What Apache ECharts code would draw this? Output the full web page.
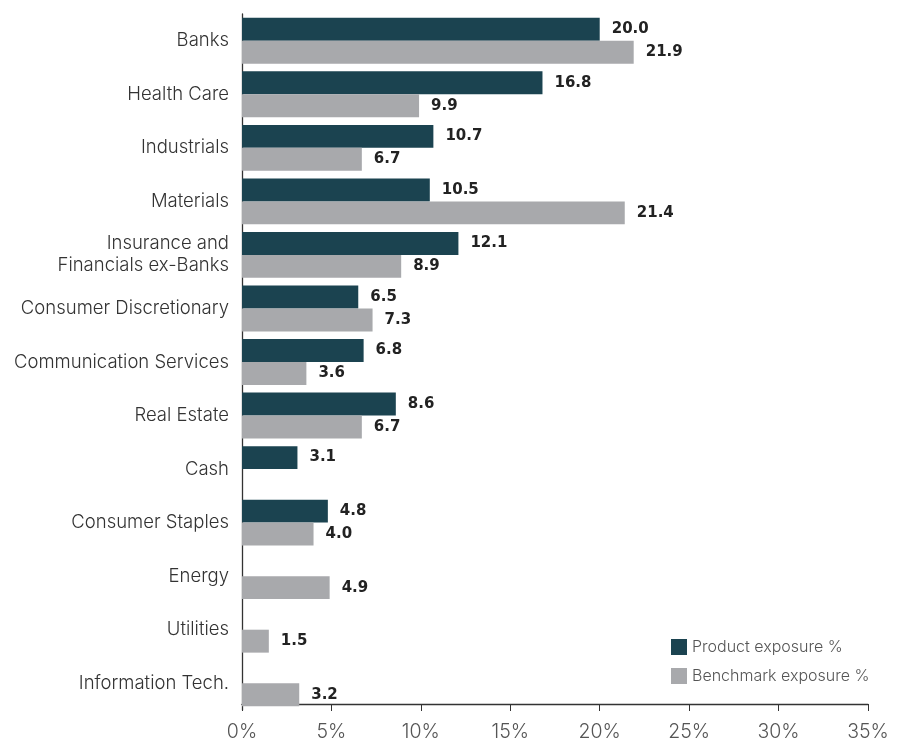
<!DOCTYPE html>
<html><head><meta charset="utf-8">
<script src="https://cdn.jsdelivr.net/npm/echarts@6/dist/echarts.min.js"></script>
<style>html,body{margin:0;padding:0;background:#fff}#c{width:902px;height:742px}</style>
</head><body><div id="c"></div>
<script>
const categories = ["Banks","Health Care","Industrials","Materials","Insurance and\nFinancials ex-Banks","Consumer Discretionary","Communication Services","Real Estate","Cash","Consumer Staples","Energy","Utilities","Information Tech."];
const productExposure = [20.0,16.8,10.7,10.5,12.1,6.5,6.8,8.6,3.1,4.8,null,null,null];
const benchmarkExposure = [21.9,9.9,6.7,21.4,8.9,7.3,3.6,6.7,null,4.0,4.9,1.5,3.2];
const seriesNames = ["Product exposure %","Benchmark exposure %"];
const FONT = "Inter, 'Open Sans', sans-serif";
const chart = echarts.init(document.getElementById('c'));
const lbl = {show:true,position:'right',distance:12,color:'#222',fontWeight:'bold',fontSize:15,fontFamily:"'DejaVu Sans', sans-serif",formatter:p=>p.value==null?'':p.value.toFixed(1)};
chart.setOption({
  animation:false,
  grid:{left:242,right:34,top:14,bottom:30,containLabel:false},
  legend:{orient:'vertical',left:671,top:639,padding:0,itemWidth:16,itemHeight:16,itemGap:13,icon:'rect',
    textStyle:{fontFamily:FONT,fontSize:16,color:'#555',fontWeight:300},data:seriesNames},
  xAxis:{type:'value',min:0,max:35,interval:5,offset:-6,
    axisLine:{show:true,lineStyle:{color:'#333',width:1.3}},
    axisTick:{show:true,length:7,lineStyle:{color:'#333'}},
    splitLine:{show:false},
    axisLabel:{formatter:'{value}%',fontFamily:FONT,fontSize:19.5,color:'#555',fontWeight:300,margin:18}},
  yAxis:{type:'category',inverse:true,data:categories,
    axisLine:{show:true,lineStyle:{color:'#333',width:1.3}},
    axisTick:{show:false},
    axisLabel:{fontFamily:FONT,fontSize:18.5,color:'#333',fontWeight:300,margin:13,lineHeight:22}},
  series:[
    {name:seriesNames[0],type:'bar',data:productExposure,itemStyle:{color:'#1b4350'},barGap:'0%',barCategoryGap:'14.3%',label:lbl},
    {name:seriesNames[1],type:'bar',data:benchmarkExposure,itemStyle:{color:'#a8a9ac'},barGap:'0%',barCategoryGap:'14.3%',label:lbl}
  ]
});
</script></body></html>
